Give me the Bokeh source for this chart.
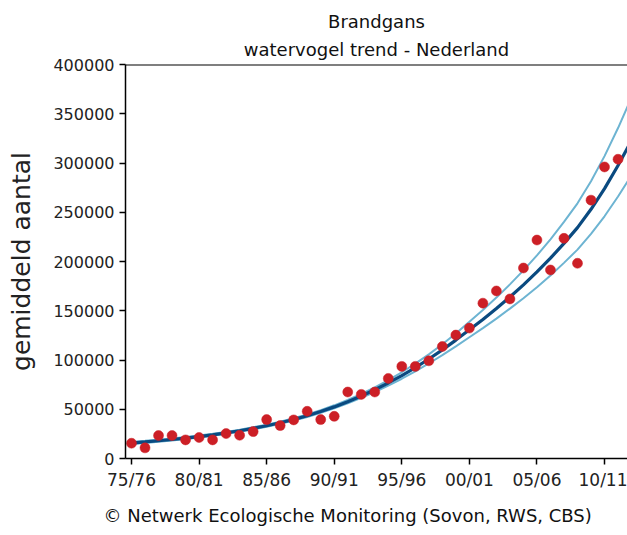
from bokeh.plotting import figure
from bokeh.models import Range1d, FixedTicker, BasicTickFormatter, Span, Title
from bokeh.embed import file_html
from bokeh.resources import INLINE

# ---------------- data ----------------
seasons = ["75/76", "76/77", "77/78", "78/79", "79/80", "80/81", "81/82", "82/83",
           "83/84", "84/85", "85/86", "86/87", "87/88", "88/89", "89/90", "90/91",
           "91/92", "92/93", "93/94", "94/95", "95/96", "96/97", "97/98", "98/99",
           "99/00", "00/01", "01/02", "02/03", "03/04", "04/05", "05/06", "06/07",
           "07/08", "08/09", "09/10", "10/11", "11/12", "12/13"]

counts = [15500, 10800, 23300, 23300, 18900, 21300, 18900, 25300, 23600, 27300,
          39500, 33400, 39200, 47900, 39500, 42800, 67500, 65100, 67500, 81300,
          93500, 93500, 99200, 113700, 125300, 132400, 157700, 170100, 162000, 193400,
          221800, 191400, 223500, 198200, 262300, 296000, 303800]

trend = [15700, 16800, 18000, 19300, 20700, 22200, 24000, 26000, 28200, 30600,
         33300, 36300, 39600, 43400, 47700, 52400, 57700, 63500, 69800, 76700,
         84200, 92300, 101000, 110300, 120200, 130700, 141200, 152300, 164000, 176300,
         189400, 203400, 218400, 234400, 253000, 274000, 297500, 323000]

trend_upper = [16840, 17930, 19110, 20390, 21760, 23250, 25030, 27030, 29230, 31660,
               34380, 37440, 40810, 44720, 49160, 54000, 59520, 65560, 72210, 79510,
               87550, 96260, 105760, 115960, 126990, 138780, 150690, 163340, 176780, 190990,
               206200, 222560, 240170, 259060, 281500, 307000, 335500, 366500]

trend_lower = [14640, 15740, 16950, 18270, 19690, 21200, 23010, 25010, 27200, 29580,
               32250, 35190, 38430, 42120, 46290, 50850, 55940, 61500, 67470, 73980,
               80980, 88510, 96460, 104920, 113770, 123090, 132320, 142000, 152140, 162740,
               173960, 185890, 198610, 212090, 228000, 245900, 266000, 287600]

x_tick_labels = ["75/76", "80/81", "85/86", "90/91", "95/96", "00/01", "05/06", "10/11"]
y_ticks = [0, 50000, 100000, 150000, 200000, 250000, 300000, 350000, 400000]

title_line1 = "Brandgans"
title_line2 = "watervogel trend - Nederland"
y_label = "gemiddeld aantal"
footer = "\u00a9 Netwerk Ecologische Monitoring (Sovon, RWS, CBS)"

# ---------------- figure ----------------
x_pts = list(range(len(counts)))
x_trend = list(range(len(trend)))
x_tick_pos = [seasons.index(s) for s in x_tick_labels]

X0, X1 = -0.444, 36.7
p = figure(width=627, height=535, output_backend="svg", toolbar_location=None,
           x_range=Range1d(X0, X1), y_range=Range1d(0, 400000),
           min_border_left=125, min_border_right=0, min_border_top=64,
           min_border_bottom=76)
p.outline_line_color = None
p.grid.visible = False
p.background_fill_color = "white"
p.border_fill_color = "white"

for ax in (p.xaxis[0], p.yaxis[0]):
    ax.axis_line_color = "black"
    ax.axis_line_width = 1.5
    ax.major_tick_line_color = "black"
    ax.major_tick_line_width = 1.5
    ax.major_tick_out = 6
    ax.major_tick_in = 0
    ax.minor_tick_line_color = None
    ax.major_label_text_font = "DejaVu Sans"
    ax.major_label_text_color = "#222222"
    ax.major_label_standoff = 5

p.xaxis.ticker = FixedTicker(ticks=x_tick_pos)
p.xaxis.major_label_overrides = {i: s for i, s in zip(x_tick_pos, x_tick_labels)}
p.xaxis.major_label_text_font_size = "17px"

p.yaxis.ticker = FixedTicker(ticks=y_ticks)
p.yaxis.formatter = BasicTickFormatter(use_scientific=False)
p.yaxis.major_label_text_font_size = "16px"
p.yaxis.axis_label = y_label
p.yaxis.axis_label_text_font = "DejaVu Sans"
p.yaxis.axis_label_text_font_size = "25px"
p.yaxis.axis_label_text_font_style = "normal"
p.yaxis.axis_label_text_color = "#222222"
p.yaxis.axis_label_standoff = 14

# titles (added nearest-first)
p.add_layout(Title(text=title_line2, align="center", text_font="DejaVu Sans",
                   text_font_size="18px", text_font_style="normal",
                   text_color="#111111", standoff=10), "above")
p.add_layout(Title(text=title_line1, align="center", text_font="DejaVu Sans",
                   text_font_size="18px", text_font_style="normal",
                   text_color="#111111", standoff=0), "above")
p.add_layout(Title(text=footer, align="left", offset=-22, text_font="DejaVu Sans",
                   text_font_size="18px", text_font_style="normal",
                   text_line_height=1.0,
                   text_color="#111111", standoff=20), "below")

# top frame line
p.add_layout(Span(location=400000, dimension="width", line_color="black", line_width=2))

# trend band and trend line
p.line(x_trend, trend_upper, line_color="#6db4d2", line_width=2)
p.line(x_trend, trend_lower, line_color="#6db4d2", line_width=2)
p.line(x_trend, trend, line_color="#0a4a80", line_width=3.2)

# counts
p.scatter(x_pts, counts, size=10, fill_color="#cc1f26", line_color="#cc1f26", line_width=0.5)

open("out.html", "w").write(file_html(p, INLINE))
